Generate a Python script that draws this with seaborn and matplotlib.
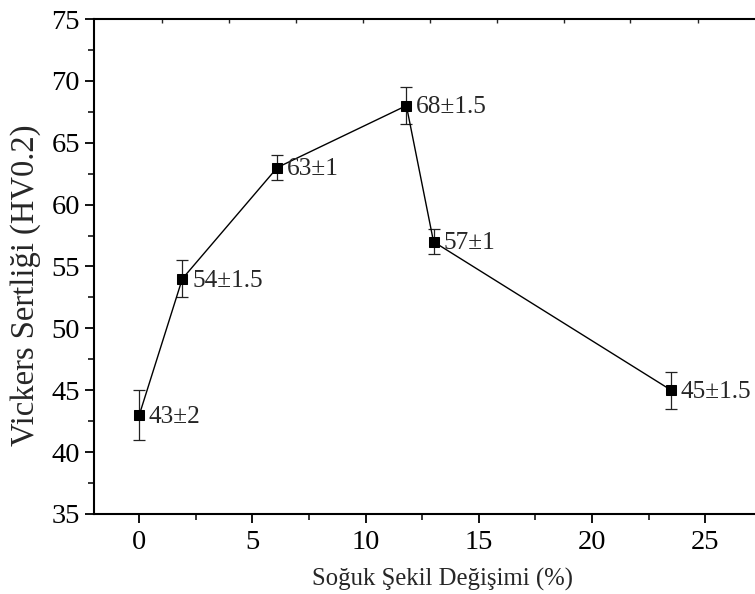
import matplotlib
matplotlib.use("Agg")
import matplotlib.pyplot as plt
import seaborn as sns
import pandas as pd

# Cold deformation (%) vs Vickers hardness with measured scatter
deformation = [0.0, 1.9, 6.1, 11.8, 13.0, 23.5]
hardness = [43, 54, 63, 68, 57, 45]
hardness_err = [2, 1.5, 1, 1.5, 1, 1.5]
labels = ["43±2", "54±1.5", "63±1", "68±1.5", "57±1", "45±1.5"]

df = pd.DataFrame({"def": deformation, "hv": hardness, "err": hardness_err})

sns.set_style("ticks")
plt.rcParams["font.family"] = ["Liberation Serif", "DejaVu Serif"]

fig = plt.figure(figsize=(7.55, 5.94), dpi=100)
ax = fig.add_axes([0.1245, 0.1347, 0.8755, 0.8333])

ax.errorbar(df["def"], df["hv"], yerr=df["err"], fmt="none",
            ecolor="#222222", elinewidth=0.9, capsize=4, capthick=0.9, zorder=2)
sns.lineplot(data=df, x="def", y="hv", ax=ax, color="black", linewidth=1.0,
             marker="s", markersize=7.5, markeredgecolor="black",
             markerfacecolor="black", sort=False, zorder=3)

for x, y, t in zip(df["def"], df["hv"], labels):
    ax.annotate(t, (x, y), xytext=(7, -1.2), textcoords="offset points",
                ha="left", va="center", fontsize=18.3)

ax.set_xlim(-2, 27.2)
ax.set_ylim(35, 75)
ax.set_xticks([0, 5, 10, 15, 20, 25])
ax.set_yticks([35, 40, 45, 50, 55, 60, 65, 70, 75])
ax.set_xticks([2.5, 7.5, 12.5, 17.5, 22.5], minor=True)
ax.set_yticks([37.5, 42.5, 47.5, 52.5, 57.5, 62.5, 67.5, 72.5], minor=True)

ax.tick_params(axis="both", which="major", direction="out", length=6.5,
               width=1.3, labelsize=20.5, colors="black")
ax.tick_params(axis="both", which="minor", direction="out", length=4.3, width=1.3)
ax.tick_params(axis="y", which="major", pad=3.5)
ax.tick_params(axis="x", which="major", pad=5)

for side in ["left", "bottom", "top"]:
    ax.spines[side].set_linewidth(1.5)
    ax.spines[side].set_color("black")
ax.spines["right"].set_visible(False)

# small inward ticks along the top edge
top = ax.secondary_xaxis("top")
top.set_xticks([1.0, 3.97, 6.93, 9.9, 12.85, 15.8, 18.75, 21.7, 24.7])
top.tick_params(direction="in", length=3, width=1.0, labeltop=False)
top.spines["top"].set_visible(False)

ax.set_xlabel("Soğuk Şekil Değişimi (%)", fontsize=17.8)
ax.xaxis.set_label_coords(0.5265, -0.108)
ax.set_ylabel("Vickers Sertliği (HV0.2)", fontsize=23.5)
ax.yaxis.set_label_coords(-0.08, 0.463)

fig.savefig("out.png", dpi=100)
